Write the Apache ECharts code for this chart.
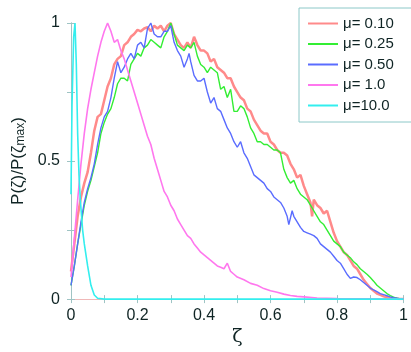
<!DOCTYPE html>
<html><head><meta charset="utf-8">
<script src="https://cdn.jsdelivr.net/npm/echarts@6/dist/echarts.min.js"></script>
<style>html,body{margin:0;padding:0;background:#fff}#c{width:411px;height:352px}</style>
</head><body><div id="c"></div>
<script>
const seriesNames = ['μ= 0.10', 'μ= 0.25', 'μ= 0.50', 'μ= 1.0', 'μ=10.0'];
const xTicksLabels = ['0', '0.2', '0.4', '0.6', '0.8', '1'];
const yTickLabels = ['0', '0.5', '1'];

const redX = [0,0.01,0.02,0.03,0.04,0.05,0.06,0.07,0.08,0.09,0.10,0.11,0.12,0.13,0.14,0.15,0.16,0.17,0.18,0.19,0.20,0.21,0.22,0.23,0.24,0.25,0.26,0.27,0.28,0.29,0.30,0.31,0.32,0.33,0.34,0.35,0.36,0.37,0.38,0.39,0.40,0.41,0.42,0.43,0.44,0.45,0.46,0.47,0.48,0.49,0.50,0.51,0.52,0.53,0.54,0.55,0.56,0.57,0.58,0.59,0.60,0.61,0.62,0.63,0.64,0.65,0.66,0.67,0.68,0.69,0.70,0.71,0.72,0.725,0.73,0.74,0.75,0.76,0.77,0.78,0.79,0.80,0.81,0.82,0.83,0.84,0.85,0.86,0.87,0.88,0.89,0.90,0.91,0.92,0.93,0.94,0.95,0.96,0.97,0.98,0.99,1.0];
const redY = [0.10,0.20,0.30,0.37,0.42,0.46,0.53,0.61,0.66,0.67,0.72,0.77,0.80,0.85,0.87,0.88,0.92,0.93,0.95,0.96,0.975,0.97,0.98,0.985,0.97,0.99,0.98,0.99,0.97,0.99,1.0,0.96,0.94,0.92,0.91,0.93,0.91,0.95,0.92,0.90,0.90,0.89,0.86,0.87,0.84,0.83,0.82,0.80,0.80,0.77,0.75,0.73,0.72,0.69,0.68,0.65,0.63,0.61,0.60,0.60,0.57,0.56,0.54,0.53,0.53,0.52,0.49,0.47,0.44,0.45,0.41,0.38,0.35,0.30,0.36,0.34,0.33,0.31,0.32,0.28,0.24,0.21,0.19,0.17,0.16,0.14,0.12,0.11,0.09,0.07,0.055,0.04,0.03,0.02,0.015,0.01,0.007,0.004,0.002,0.001,0,0];

const greenX = [0,0.01,0.02,0.03,0.04,0.05,0.06,0.07,0.08,0.09,0.10,0.11,0.12,0.13,0.14,0.15,0.16,0.17,0.18,0.19,0.20,0.21,0.22,0.23,0.24,0.25,0.26,0.27,0.28,0.29,0.30,0.31,0.32,0.33,0.34,0.35,0.36,0.37,0.38,0.39,0.40,0.41,0.42,0.43,0.44,0.45,0.46,0.47,0.48,0.49,0.50,0.51,0.52,0.53,0.54,0.55,0.56,0.57,0.58,0.59,0.60,0.61,0.62,0.63,0.64,0.65,0.66,0.67,0.68,0.69,0.70,0.71,0.72,0.73,0.74,0.75,0.76,0.77,0.78,0.79,0.80,0.81,0.82,0.83,0.84,0.85,0.86,0.87,0.88,0.89,0.90,0.91,0.92,0.93,0.94,0.95,0.96,0.97,0.98,0.99,1.0];
const greenY = [0.05,0.12,0.20,0.27,0.34,0.39,0.43,0.48,0.53,0.60,0.64,0.67,0.69,0.73,0.78,0.80,0.80,0.79,0.85,0.87,0.89,0.88,0.91,0.92,0.94,0.93,0.92,0.91,0.95,0.97,1.0,0.96,0.92,0.91,0.90,0.92,0.91,0.93,0.88,0.85,0.84,0.82,0.84,0.83,0.82,0.76,0.77,0.73,0.76,0.68,0.68,0.70,0.69,0.66,0.62,0.60,0.57,0.57,0.56,0.56,0.55,0.54,0.54,0.53,0.47,0.44,0.42,0.43,0.40,0.38,0.37,0.36,0.34,0.32,0.30,0.28,0.27,0.25,0.23,0.21,0.20,0.19,0.17,0.16,0.15,0.135,0.125,0.11,0.10,0.09,0.078,0.065,0.05,0.04,0.03,0.02,0.013,0.007,0.003,0.001,0];

const blueX = [0,0.01,0.02,0.03,0.04,0.05,0.06,0.07,0.08,0.09,0.10,0.11,0.12,0.13,0.14,0.15,0.16,0.17,0.18,0.19,0.20,0.21,0.22,0.23,0.24,0.25,0.26,0.27,0.28,0.29,0.30,0.31,0.32,0.33,0.34,0.35,0.355,0.36,0.37,0.38,0.39,0.40,0.41,0.42,0.43,0.44,0.45,0.46,0.47,0.48,0.49,0.50,0.51,0.52,0.53,0.54,0.55,0.56,0.57,0.58,0.59,0.60,0.61,0.62,0.63,0.64,0.65,0.655,0.665,0.67,0.68,0.69,0.70,0.71,0.72,0.73,0.74,0.75,0.76,0.77,0.78,0.79,0.80,0.81,0.82,0.83,0.84,0.85,0.86,0.87,0.88,0.89,0.90,0.91,0.92,0.93,0.94,0.95,0.96,0.97,0.98,0.99,1.0];
const blueY = [0.05,0.12,0.20,0.28,0.35,0.40,0.44,0.49,0.56,0.62,0.66,0.68,0.73,0.80,0.86,0.82,0.84,0.87,0.89,0.87,0.92,0.93,0.91,0.98,1.0,0.96,0.95,0.95,0.97,0.97,0.99,0.93,0.90,0.88,0.84,0.87,0.89,0.86,0.81,0.79,0.79,0.80,0.75,0.71,0.73,0.69,0.68,0.65,0.62,0.60,0.57,0.55,0.57,0.53,0.51,0.48,0.45,0.44,0.43,0.42,0.40,0.39,0.37,0.36,0.35,0.33,0.30,0.27,0.32,0.30,0.28,0.26,0.245,0.24,0.235,0.23,0.22,0.20,0.19,0.18,0.17,0.155,0.14,0.13,0.11,0.09,0.075,0.08,0.078,0.07,0.06,0.05,0.04,0.033,0.027,0.02,0.016,0.012,0.008,0.005,0.003,0.001,0];

const magentaX = [0,0.01,0.02,0.03,0.04,0.05,0.06,0.07,0.08,0.09,0.10,0.11,0.12,0.13,0.14,0.15,0.16,0.17,0.18,0.19,0.20,0.21,0.22,0.23,0.24,0.25,0.26,0.27,0.28,0.29,0.30,0.31,0.32,0.33,0.34,0.35,0.36,0.37,0.38,0.39,0.40,0.41,0.42,0.43,0.44,0.45,0.46,0.47,0.48,0.49,0.50,0.52,0.54,0.56,0.58,0.60,0.62,0.64,0.66,0.68,0.70,0.74,0.80,0.90,1.0];
const magentaY = [0.08,0.22,0.36,0.49,0.60,0.69,0.76,0.82,0.88,0.93,0.97,1.0,0.97,0.93,0.94,0.90,0.87,0.83,0.79,0.75,0.71,0.67,0.63,0.59,0.56,0.51,0.47,0.43,0.39,0.37,0.34,0.32,0.29,0.27,0.25,0.23,0.22,0.20,0.185,0.17,0.16,0.15,0.14,0.13,0.12,0.115,0.11,0.13,0.10,0.09,0.08,0.07,0.057,0.05,0.038,0.03,0.025,0.018,0.013,0.01,0.008,0.004,0.002,0.001,0];

const cyanX = [0,0.003,0.008,0.012,0.016,0.02,0.024,0.028,0.035,0.04,0.05,0.06,0.07,0.08,0.1,1.0];
const cyanY = [0.38,0.70,0.95,1.0,0.85,0.60,0.45,0.36,0.25,0.20,0.12,0.05,0.015,0.003,0,0];

const xs = [redX, greenX, blueX, magentaX, cyanX];
const ys = [redY, greenY, blueY, magentaY, cyanY];
const colors = ['#ff8a8a', '#33ee33', '#5a6cff', '#ff77ee', '#33eeee'];
const widths = [2.5, 1.4, 1.4, 1.6, 1.6];

const chart = echarts.init(document.getElementById('c'), null, {renderer: 'canvas'});
const axisCol = '#9fc4c4';
const labelStyle = {color: '#0f2424', fontSize: 16, fontFamily: 'Liberation Sans, Arial, sans-serif'};
chart.setOption({
  animation: false,
  backgroundColor: '#fff',
  grid: {left: 71, top: 23, width: 339, height: 282, show: false},
  legend: {
    orient: 'vertical', left: 299, top: 8,
    padding: [8, 24, 9, 8],
    borderColor: '#8cc8c8', borderWidth: 1, backgroundColor: '#fff',
    itemWidth: 30, itemHeight: 14, itemGap: 5.5, itemTextGap: 8,
    itemStyle: {opacity: 0, borderWidth: 0},
    textStyle: {color: '#0f2424', fontSize: 15, lineHeight: 14, fontFamily: 'Liberation Sans, Arial, sans-serif'},
    data: seriesNames
  },
  xAxis: [{
    type: 'value', min: 0, max: 1, interval: 0.1, position: 'bottom',
    name: 'ζ', nameLocation: 'middle', nameGap: 22,
    nameTextStyle: {color: '#0f2424', fontSize: 19, fontFamily: 'DejaVu Serif, serif'},
    axisLine: {show: true, lineStyle: {color: axisCol, width: 1}},
    axisTick: {show: true, inside: true, length: 4, lineStyle: {color: axisCol}},
    axisLabel: Object.assign({margin: 8, formatter: v => {
      const i = Math.round(v * 10);
      return i % 2 === 0 ? xTicksLabels[i / 2] : '';
    }}, labelStyle),
    splitLine: {show: false}
  }, {
    type: 'value', min: 0, max: 1, interval: 0.1, position: 'top',
    axisLine: {show: true, lineStyle: {color: '#f0b8b8', width: 1}},
    axisTick: {show: true, inside: true, length: 4, lineStyle: {color: axisCol}},
    axisLabel: {show: false}, splitLine: {show: false}
  }],
  yAxis: [{
    type: 'value', min: 0, max: 1, interval: 0.25, position: 'left',
    name: 'P(ζ)/P(ζ{s|max})', nameLocation: 'middle', nameGap: 38, nameRotate: 90,
    nameTextStyle: {color: '#0f2424', fontSize: 17, fontFamily: 'Liberation Sans, Arial, sans-serif',
      rich: {s: {fontSize: 12, verticalAlign: 'bottom', padding: [6, 0, 0, 0], color: '#0f2424', fontFamily: 'Liberation Sans, Arial, sans-serif'}}},
    axisLine: {show: true, lineStyle: {color: axisCol, width: 1}},
    axisTick: {show: true, inside: true, length: 4, lineStyle: {color: axisCol}},
    axisLabel: Object.assign({margin: 11, formatter: v => {
      const i = Math.round(v * 4);
      return i % 2 === 0 ? yTickLabels[i / 2] : '';
    }}, labelStyle),
    splitLine: {show: false}
  }, {
    type: 'value', min: 0, max: 1, interval: 0.25, position: 'right',
    axisLine: {show: true, lineStyle: {color: axisCol, width: 1}},
    axisTick: {show: true, inside: true, length: 4, lineStyle: {color: axisCol}},
    axisLabel: {show: false}, splitLine: {show: false}
  }],
  series: seriesNames.map((n, k) => ({
    name: n, type: 'line', symbol: 'none', xAxisIndex: 0, yAxisIndex: 0,
    data: xs[k].map((x, i) => [x, ys[k][i]]),
    lineStyle: {color: colors[k], width: widths[k]},
    itemStyle: {color: colors[k]},
    z: 2 + k
  }))
});
</script></body></html>
